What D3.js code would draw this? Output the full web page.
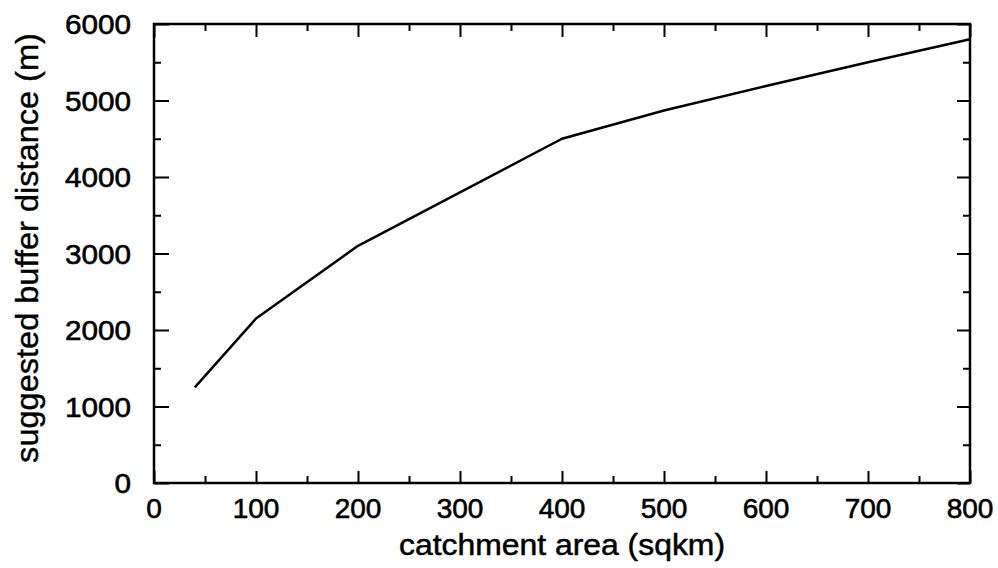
<!DOCTYPE html>
<html>
<head>
<meta charset="utf-8">
<script src="https://cdn.jsdelivr.net/npm/d3@7"></script>
<style>
  body { margin: 0; background: #fff; }
  text { font-family: "Liberation Sans", Arial, sans-serif; fill: #000; }
</style>
</head>
<body>
<script>
// catchment area (sqkm) vs suggested buffer distance (m)
const area = [40, 100, 200, 300, 400, 500, 600, 700, 800];
const buffer = [1250, 2150, 3100, 3800, 4500, 4870, 5190, 5500, 5800];

const xMajor = [0, 100, 200, 300, 400, 500, 600, 700, 800];
const xMinor = [50, 150, 250, 350, 450, 550, 650, 750];
const yMajor = [0, 1000, 2000, 3000, 4000, 5000, 6000];
const yMinor = [500, 1500, 2500, 3500, 4500, 5500];

const xTitle = "catchment area (sqkm)";
const yTitle = "suggested buffer distance (m)";

var svg = d3.select("body").append("svg")
  .attr("width", 998)
  .attr("height", 568);

var x = d3.scaleLinear().domain([0, 800]).range([154, 970]);
var y = d3.scaleLinear().domain([0, 6000]).range([483, 24]);

function styleTicks(g) {
  g.selectAll(".tick line").attr("stroke", "#000").attr("stroke-width", 2);
  g.select(".domain").remove();
}

// bottom / top ticks, all pointing inward
svg.append("g").attr("transform", "translate(0,483)")
  .call(d3.axisBottom(x).tickValues(xMajor).tickSize(-12).tickFormat(""))
  .call(styleTicks);
svg.append("g").attr("transform", "translate(0,483)")
  .call(d3.axisBottom(x).tickValues(xMinor).tickSize(-7).tickFormat(""))
  .call(styleTicks);
svg.append("g").attr("transform", "translate(0,24)")
  .call(d3.axisTop(x).tickValues(xMajor).tickSize(-13).tickFormat(""))
  .call(styleTicks);
svg.append("g").attr("transform", "translate(0,24)")
  .call(d3.axisTop(x).tickValues(xMinor).tickSize(-7).tickFormat(""))
  .call(styleTicks);

// left / right ticks
svg.append("g").attr("transform", "translate(154,0)")
  .call(d3.axisLeft(y).tickValues(yMajor).tickSize(-15).tickFormat(""))
  .call(styleTicks);
svg.append("g").attr("transform", "translate(154,0)")
  .call(d3.axisLeft(y).tickValues(yMinor).tickSize(-7).tickFormat(""))
  .call(styleTicks);
svg.append("g").attr("transform", "translate(970,0)")
  .call(d3.axisRight(y).tickValues(yMajor).tickSize(-13).tickFormat(""))
  .call(styleTicks);
svg.append("g").attr("transform", "translate(970,0)")
  .call(d3.axisRight(y).tickValues(yMinor).tickSize(-7).tickFormat(""))
  .call(styleTicks);

// tick labels
svg.append("g").selectAll("text")
  .data(xMajor)
  .join("text")
  .attr("transform", function (d) { return "translate(" + x(d) + ",518)"; })
  .attr("text-anchor", "middle")
  .attr("font-size", 28)
  .attr("stroke", "#000")
  .attr("stroke-width", 0.6)
  .text(function (d) { return d; });

svg.append("g").selectAll("text")
  .data(yMajor)
  .join("text")
  .attr("transform", function (d) { return "translate(131," + (y(d) + 10) + ") scale(1.06,1)"; })
  .attr("text-anchor", "end")
  .attr("font-size", 28)
  .attr("stroke", "#000")
  .attr("stroke-width", 0.6)
  .text(function (d) { return d; });

// frame
svg.append("rect")
  .attr("x", 154)
  .attr("y", 24)
  .attr("width", 970 - 154)
  .attr("height", 483 - 24)
  .attr("fill", "none")
  .attr("stroke", "#000")
  .attr("stroke-width", 2.5);

// the curve
var line = d3.line()
  .x(function (d, i) { return x(area[i]); })
  .y(function (d) { return y(d); });

svg.append("path")
  .datum(buffer)
  .attr("d", line)
  .attr("fill", "none")
  .attr("stroke", "#000")
  .attr("stroke-width", 2.5)
  .attr("stroke-linejoin", "round");

// titles
svg.append("text")
  .attr("transform", "translate(562,555) scale(1.1,1)")
  .attr("text-anchor", "middle")
  .attr("font-size", 29)
  .attr("stroke", "#000")
  .attr("stroke-width", 0.5)
  .text(xTitle);

svg.append("text")
  .attr("transform", "translate(38,248) rotate(-90) scale(1.05,1)")
  .attr("text-anchor", "middle")
  .attr("font-size", 31)
  .attr("stroke", "#000")
  .attr("stroke-width", 0.4)
  .text(yTitle);
</script>
</body>
</html>
